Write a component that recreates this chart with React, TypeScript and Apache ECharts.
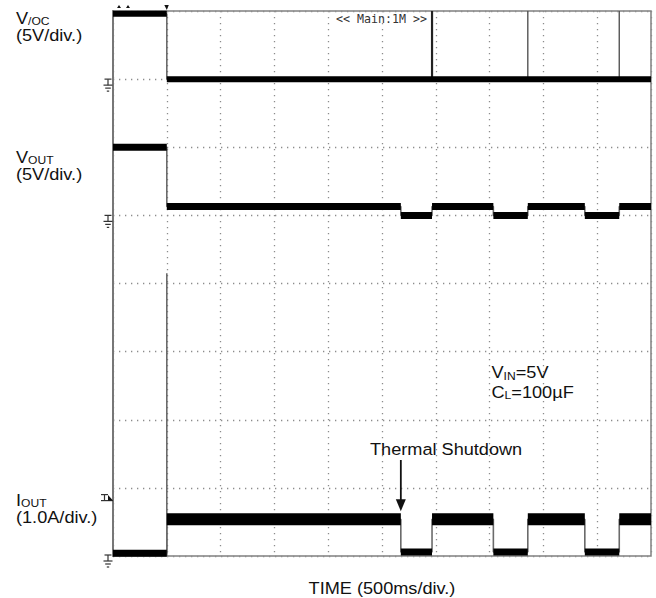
import React, { useEffect, useRef } from 'react';
import * as echarts from 'echarts';

// ---------------- data (read off the scope capture) ----------------
// time axis: 10 divisions x 500 ms
const timeMinMs = 0;
const timeMaxMs = 5000;
const timePerDivMs = 500;
const verticalDivisions = 8;

// segment boundaries (ms) shared by all three traces
const timeEdgesMs = [0, 500, 2675, 2965, 3535, 3855, 4385, 4705, 5000];
// level of each segment between the edges above
const vocLevelsV = [4.8, 0, 0, 0, 0, 0, 0, 0];
const voutLevelsV = [5.0, 0.65, 0, 0.65, 0, 0.65, 0, 0.65];
const ioutLevelsA = [0.04, 0.54, 0.06, 0.54, 0.06, 0.54, 0.06, 0.54];

// short /OC pulses at every restart
const vocSpikeTimesMs = [2965, 3855, 4705];
const vocSpikePeakV = [5.0, 5.0, 5.0];
const vocSpikeWidths = [2.2, 1.4, 1.4];

// trigger cursor line
const cursorTimeMs = 500;
const cursorSpanDiv = [0, 4.15];

const thermalShutdownMs = 2675;
const ioutTriggerA = 0.85;

// channel scaling: offset (div from bottom) and units per division
const vocOffsetDiv = 7;
const vocPerDiv = 5;
const voutOffsetDiv = 5;
const voutPerDiv = 5;
const ioutOffsetDiv = 0;
const ioutPerDiv = 1.0;

// ---------------- helpers ----------------
const FONT = '"Liberation Sans", Arial, Helvetica, sans-serif';
const SX = 1.1; // the capture's lettering is slightly wide
const toDiv = (v: number, off: number, per: number) => off + v / per;

function stepPath(levels: number[], off: number, per: number) {
  const pts: (number | null)[][] = [];
  levels.forEach((lv, i) => {
    const d = toDiv(lv, off, per);
    pts.push([timeEdgesMs[i], d]);
    pts.push([timeEdgesMs[i + 1], d]);
  });
  return pts;
}

function bandPath(levels: number[], off: number, per: number, keep: (lv: number) => boolean) {
  const pts: (number | null)[][] = [];
  levels.forEach((lv, i) => {
    if (!keep(lv)) return;
    const d = toDiv(lv, off, per);
    pts.push([timeEdgesMs[i], d]);
    pts.push([timeEdgesMs[i + 1], d]);
    pts.push([timeEdgesMs[i + 1], null]);
  });
  return pts;
}

function lineSeries(data: any[], color: string, width: number, z: number) {
  return {
    type: 'line',
    data,
    showSymbol: false,
    symbol: 'none',
    connectNulls: false,
    silent: true,
    z,
    lineStyle: { color, width, cap: 'butt' },
  };
}

let measureCtx: CanvasRenderingContext2D | null = null;
function textWidth(s: string, size: number, family = FONT) {
  if (!measureCtx) measureCtx = document.createElement('canvas').getContext('2d');
  if (!measureCtx) return s.length * size * 0.55;
  measureCtx.font = `${size}px ${family}`;
  return measureCtx.measureText(s).width;
}

function txt(x: number, y: number, s: string, size: number, opts: any = {}) {
  return {
    type: 'text',
    x,
    y,
    scaleX: opts.scaleX ?? SX,
    silent: true,
    z: 100,
    style: {
      text: s,
      fontSize: size,
      lineHeight: opts.lineHeight ?? size,
      fontFamily: opts.family || FONT,
      fill: opts.fill || '#111',
      align: opts.align || 'left',
      verticalAlign: 'middle',
    },
  };
}

// main text + subscript + optional trailing text
function subLabel(x: number, y: number, main: string, sub: string, tail: string, size: number, subSize: number, subDrop: number) {
  const w1 = textWidth(main, size) * SX;
  const w2 = textWidth(sub, subSize) * SX;
  const els: any[] = [
    txt(x, y, main, size, { lineHeight: size - 3 }),
    txt(x + w1, y + subDrop, sub, subSize, { lineHeight: subSize - 2 }),
  ];
  if (tail) els.push(txt(x + w1 + w2, y, tail, size, { lineHeight: size - 3 }));
  return els;
}

function seg(x1: number, y1: number, x2: number, y2: number, color = '#333', w = 1.2) {
  return { type: 'line', silent: true, z: 100, shape: { x1, y1, x2, y2 }, style: { stroke: color, lineWidth: w } };
}

function groundSymbol(cx: number, gy: number) {
  return [
    seg(cx - 3.5, gy, cx + 3.5, gy),
    seg(cx, gy, cx, gy + 6),
    seg(cx - 4.5, gy + 6, cx + 4.5, gy + 6),
    seg(cx - 2.8, gy + 9, cx + 2.8, gy + 9),
    seg(cx - 1.2, gy + 12, cx + 1.2, gy + 12),
  ];
}

function poly(points: number[][], fill = '#111') {
  return { type: 'polygon', silent: true, z: 100, shape: { points }, style: { fill } };
}

export default function App() {
  const ref = useRef<HTMLDivElement>(null);

  useEffect(() => {
    if (!ref.current) return;
    document.body.style.margin = '0';
    const chart = echarts.init(ref.current, null, { renderer: 'svg' });

    const gridDots = { color: '#8c8c8c', width: 1.3, type: [1.3, 4.7] as any };
    const trace = '#6b6b6b';

    const series: any[] = [];
    // trigger cursor
    series.push(lineSeries([[cursorTimeMs, cursorSpanDiv[0]], [cursorTimeMs, cursorSpanDiv[1]]], trace, 1.6, 2));
    // thin step traces (edges)
    series.push(lineSeries(stepPath(vocLevelsV, vocOffsetDiv, vocPerDiv), trace, 1.6, 3));
    series.push(lineSeries(stepPath(voutLevelsV, voutOffsetDiv, voutPerDiv), trace, 1.6, 3));
    series.push(lineSeries(stepPath(ioutLevelsA, ioutOffsetDiv, ioutPerDiv), trace, 1.6, 3));
    // /OC pulses
    vocSpikeTimesMs.forEach((t, i) => {
      const base = toDiv(vocLevelsV[timeEdgesMs.indexOf(t)] ?? 0, vocOffsetDiv, vocPerDiv);
      series.push(lineSeries([[t, base], [t, toDiv(vocSpikePeakV[i], vocOffsetDiv, vocPerDiv)]], i === 0 ? '#222' : '#555', vocSpikeWidths[i], 4));
    });
    // thick noisy bands
    series.push(lineSeries(bandPath(vocLevelsV, vocOffsetDiv, vocPerDiv, () => true), '#000', 6, 5));
    series.push(lineSeries(bandPath(voutLevelsV, voutOffsetDiv, voutPerDiv, () => true), '#000', 7, 5));
    series.push(lineSeries(bandPath(ioutLevelsA, ioutOffsetDiv, ioutPerDiv, (lv) => lv > 0.3), '#000', 12, 5));
    series.push(lineSeries(bandPath(ioutLevelsA, ioutOffsetDiv, ioutPerDiv, (lv) => lv <= 0.3), '#000', 7, 5));

    chart.setOption({
      animation: false,
      grid: {
        left: 113,
        top: 11,
        right: 5,
        bottom: 42,
        show: true,
        borderColor: '#808080',
        borderWidth: 1.5,
        backgroundColor: 'transparent',
        containLabel: false,
        outerBoundsMode: 'none',
      },
      xAxis: {
        type: 'value',
        min: timeMinMs,
        max: timeMaxMs,
        interval: timePerDivMs,
        axisLine: { show: false },
        axisTick: { show: false },
        axisLabel: { show: false },
        splitLine: { show: true, lineStyle: gridDots },
      },
      yAxis: {
        type: 'value',
        min: 0,
        max: verticalDivisions,
        interval: 1,
        axisLine: { show: true, lineStyle: { color: '#777', width: 2 } },
        axisTick: { show: false },
        axisLabel: { show: false },
        splitLine: { show: true, lineStyle: gridDots },
      },
      series,
    });

    const px = (t: number, d: number) => chart.convertToPixel({ gridIndex: 0 } as any, [t, d]) as number[];

    const g: any[] = [];
    // channel labels
    g.push(...subLabel(16, 18, 'V', '/OC', '', 16.5, 11, 3.5));
    g.push(txt(16, 35, '(5V/div.)', 16.5, { lineHeight: 15 }));
    g.push(...subLabel(16, 157, 'V', 'OUT', '', 16.5, 11, 3.5));
    g.push(txt(16, 174, '(5V/div.)', 16.5, { lineHeight: 15 }));
    g.push(...subLabel(16, 500, 'I', 'OUT', '', 16.5, 11, 3.5));
    g.push(txt(16, 517, '(1.0A/div.)', 16.5, { lineHeight: 15 }));

    // ground markers
    const gx = px(timeMinMs, 0)[0] - 5;
    g.push(...groundSymbol(gx, px(0, toDiv(0, vocOffsetDiv, vocPerDiv))[1]));
    g.push(...groundSymbol(gx, px(0, toDiv(0, voutOffsetDiv, voutPerDiv))[1]));
    g.push(...groundSymbol(gx, px(0, toDiv(0, ioutOffsetDiv, ioutPerDiv))[1] - 1));

    // IOUT trigger level marker
    const tl = px(timeMinMs, toDiv(ioutTriggerA, ioutOffsetDiv, ioutPerDiv));
    g.push(seg(tl[0] - 12, tl[1] - 3.5, tl[0] - 5, tl[1] - 3.5));
    g.push(seg(tl[0] - 8.5, tl[1] - 3.5, tl[0] - 8.5, tl[1] + 2.5));
    g.push(seg(tl[0] - 12, tl[1] + 2.5, tl[0], tl[1] + 2.5));
    g.push(poly([[tl[0] - 5, tl[1] - 3], [tl[0], tl[1] + 2.5], [tl[0] - 5, tl[1] + 2.5]]));

    // trigger-position marks on top edge
    const trg = px(cursorTimeMs, verticalDivisions);
    g.push(poly([[trg[0] - 2.5, trg[1] - 6], [trg[0] + 2, trg[1] - 6], [trg[0], trg[1] - 1]]));
    const lm = px(timeMinMs, verticalDivisions);
    g.push(poly([[lm[0] + 4, lm[1] - 3], [lm[0] + 8, lm[1] - 3], [lm[0] + 6, lm[1] - 6]]));
    g.push(poly([[lm[0] + 13, lm[1] - 3], [lm[0] + 17, lm[1] - 3], [lm[0] + 15, lm[1] - 6]]));

    // scope header
    g.push(txt(336, 19, '<< Main:1M >>', 12, { family: '"DejaVu Sans Mono", monospace', fill: '#333', scaleX: 0.97 }));

    // conditions
    g.push(...subLabel(491.5, 372.5, 'V', 'IN', '=5V', 16.5, 11, 3.5));
    g.push(...subLabel(491.5, 392, 'C', 'L', '=100µF', 16.5, 11, 3.5));

    // thermal shutdown annotation
    g.push(txt(370, 449.5, 'Thermal Shutdown', 16.5));
    const ax = px(thermalShutdownMs, 0)[0];
    const tipY = px(0, toDiv(ioutLevelsA[1], ioutOffsetDiv, ioutPerDiv))[1] - 8;
    g.push(seg(ax, 460, ax, tipY - 10, '#111', 1.8));
    g.push(poly([[ax - 5, tipY - 12], [ax + 5, tipY - 12], [ax, tipY]]));

    // time axis title
    const mid = (px(timeMinMs, 0)[0] + px(timeMaxMs, 0)[0]) / 2;
    g.push(txt(mid, 588, 'TIME (500ms/div.)', 16.5, { align: 'center' }));

    chart.setOption({ graphic: g });

    return () => chart.dispose();
  }, []);

  return <div ref={ref} style={{ width: 656, height: 598 }} />;
}
